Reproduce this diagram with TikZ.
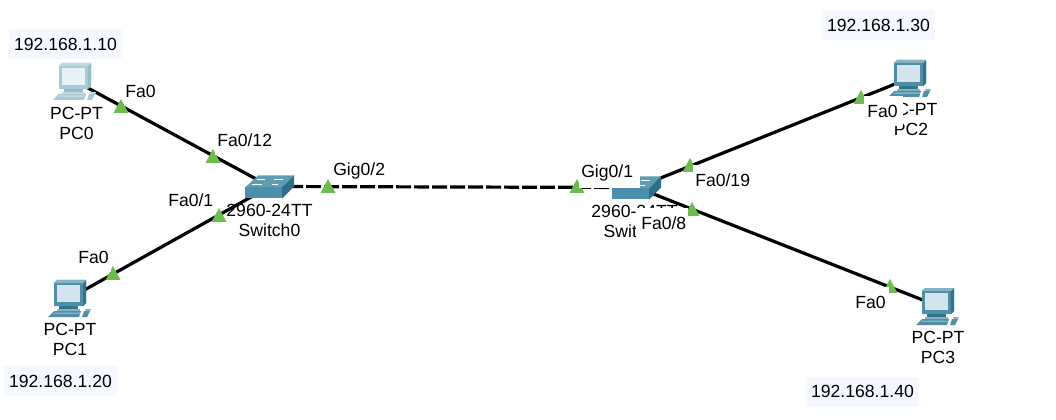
\documentclass[tikz,border=0pt]{standalone}
\usepackage{fontspec}
\setmainfont{Liberation Sans}
\newdimen\pxu \pxu=.75pt
\newcommand{\padtxt}[3]{\hspace*{#1\pxu}#3\hspace*{#2\pxu}}
\definecolor{portgreen}{HTML}{6CBE4C}
\definecolor{ipfill}{HTML}{F6F8FF}
\definecolor{pcA}{HTML}{4F8EA6}
\definecolor{pcB}{HTML}{2F7590}
\definecolor{pcC}{HTML}{D3E4EC}
\definecolor{pcD}{HTML}{85B3C5}
\definecolor{fadeA}{HTML}{A9CBD8}
\definecolor{fadeB}{HTML}{94BDCC}
\definecolor{fadeC}{HTML}{E8F1F5}
\definecolor{fadeD}{HTML}{C2D9E2}
\definecolor{swTop}{HTML}{5F9DB3}
\definecolor{swFront}{HTML}{4C8FAB}
\definecolor{swSide}{HTML}{2C6F8A}
\tikzset{
  x=.75pt,y=-.75pt,
  every node/.style={font=\fontsize{13.2pt}{15pt}\selectfont,text=black},
  link/.style={draw=black,line width=2.4pt},
  trunk/.style={link,dash pattern=on 15\pxu off 3\pxu},
  devlabel/.style={align=center,inner sep=0pt},
  portlabel/.style={anchor=west,inner sep=0pt,fill=white,minimum height=30\pxu},
  iplabel/.style={fill=ipfill,inner sep=0pt,minimum height=30\pxu,minimum width=113\pxu},
  pics/portmark/.style={code={\fill[portgreen] (-7.5,0) -- (0,-14) -- (7.5,0) -- cycle;}},
  pics/pcicon/.style n args={4}{code={
    % monitor
    \fill[#1] (-16,-15) -- (-13,-18) -- (16,-18) -- (16,5) -- (13,8) -- (-16,8) -- cycle;
    \fill[#2] (13,-15) -- (16,-18) -- (16,5) -- (13,8) -- cycle;
    \fill[#4] (-16,-15) -- (-13,-18) -- (16,-18) -- (13,-15) -- cycle;
    \fill[#3] (-13,-13) rectangle (10,4);
    % base
    \fill[#2] (-11,8) rectangle (8,11);
    \fill[#4] (-13,11) rectangle (10,13);
    % keyboard
    \fill[#1] (-16,13) -- (11,13) -- (9,19) -- (-22,19) -- cycle;
    \fill[#4] (-15,14.5) -- (10,14.5) -- (9.5,16) -- (-17,16) -- cycle;
    % mouse
    \fill[#4] (15,11) -- (21,11) -- (20,13) -- (16,13) -- cycle;
    \fill[#1] (14,13) -- (20,13) -- (17,19) -- (12,19) -- cycle;
  }},
  pics/switchicon/.style={code={
    \fill[swTop] (-25,1) -- (-12,-11) -- (24,-11) -- (12,1) -- cycle;
    \fill[swFront] (-25,1) rectangle (12,12);
    \fill[swSide] (12,1) -- (24,-11) -- (24,0) -- (12,12) -- cycle;
    \draw[white,line width=.6pt] (-13,-7) -- (-5,-7) (4,-7) -- (13,-7) (-18,-2) -- (-8,-2) (2,-2) -- (8,-2);
  }},
}
\begin{document}
\begin{tikzpicture}
\useasboundingbox (0,0) rectangle (1056,420);
\coordinate (pc0) at (75,81);
\coordinate (pc1) at (70,298);
\coordinate (pc2) at (910,78);
\coordinate (pc3) at (938,306);
\coordinate (sw0) at (270,186.5);
\coordinate (sw1) at (637,187.5);
% links
\draw[link] (pc0) -- (sw0);
\draw[link] (pc1) -- (sw0);
\draw[trunk] (sw0) -- (sw1);
\draw[link] (sw1) -- (pc2);
\draw[link] (sw1) -- (pc3);
% devices
\pic at (pc0) {pcicon={fadeA}{fadeB}{fadeC}{fadeD}};
\pic at (pc1) {pcicon={pcA}{pcB}{pcC}{pcD}};
\pic at (pc2) {pcicon={pcA}{pcB}{pcC}{pcD}};
\pic at (pc3) {pcicon={pcA}{pcB}{pcC}{pcD}};
\pic at (sw0) {switchicon};
\pic at (sw1) {switchicon};
% port marks
\pic at (121,113) {portmark};
\pic at (213,163) {portmark};
\pic at (219,222) {portmark};
\pic at (113,280) {portmark};
\pic at (328,193) {portmark};
\pic at (577,193) {portmark};
\pic at (690,172) {portmark};
\pic at (692,216) {portmark};
\pic at (861,104) {portmark};
\pic at (890,293) {portmark};
% device labels
\node[devlabel] (lpc0) at (76.5,123) {PC-PT\\PC0};
\node[devlabel] (lpc1) at (70,339) {PC-PT\\PC1};
\node[devlabel] (lpc2) at (911,119.5) {PC-PT\\PC2};
\node[devlabel] (lpc3) at (938,347) {PC-PT\\PC3};
\node[devlabel] (lsw0) at (269.5,220.5) {2960-24TT\\Switch0};
\node[devlabel] (lsw1) at (634.5,221.5) {2960-24TT\\Switch1};
% port labels
\node[portlabel] (p1) at (124,91) {\padtxt{1}{1}{Fa0}};
\node[portlabel] (p2) at (215,140) {\padtxt{2}{2}{Fa0/12}};
\node[portlabel] (p3) at (166,200) {\padtxt{2}{2}{Fa0/1}};
\node[portlabel] (p4) at (76,257) {\padtxt{2}{2}{Fa0}};
\node[portlabel,minimum height=26\pxu] (p5) at (331,171) {\padtxt{2}{2}{Gig0/2}};
\node[portlabel] (p6) at (579,173) {\padtxt{2}{7}{Gig0/1}};
\node[portlabel] (p7) at (693,180) {\padtxt{2}{2}{Fa0/19}};
\node[portlabel] (p8) at (636,223) {\padtxt{5}{2}{Fa0/8}};
\node[portlabel] (p9) at (864,111) {\padtxt{3}{5}{Fa0}};
\node[portlabel] (p10) at (853,302) {\padtxt{2}{3}{Fa0}};
% addresses
\node[iplabel] (ip0) at (65.5,44) {192.168.1.10};
\node[iplabel] (ip1) at (60.5,381) {192.168.1.20};
\node[iplabel] (ip2) at (878.5,25) {192.168.1.30};
\node[iplabel] (ip3) at (862.5,391.5) {192.168.1.40};
\end{tikzpicture}
\end{document}
